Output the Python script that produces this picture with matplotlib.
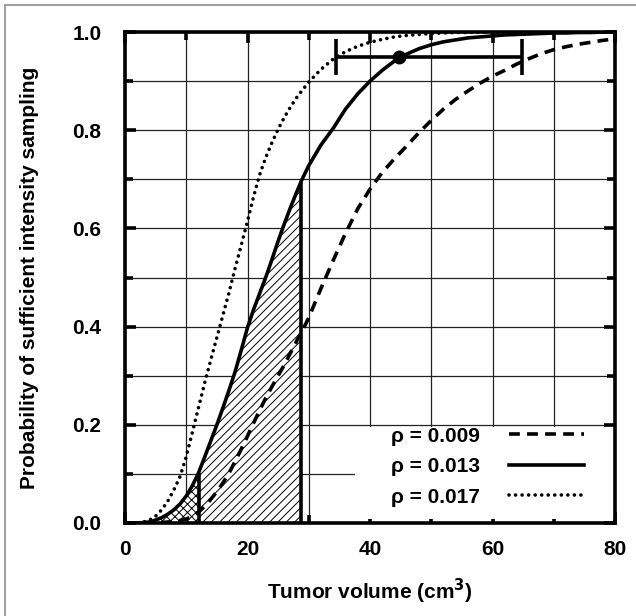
import matplotlib
matplotlib.use('Agg')
import matplotlib.pyplot as plt
from matplotlib.patches import Rectangle
from matplotlib.lines import Line2D
import numpy as np

plt.rcParams['font.family'] = ['Liberation Sans', 'DejaVu Sans']
plt.rcParams['font.weight'] = 'bold'
plt.rcParams['hatch.linewidth'] = 0.7

vol = [0, 2, 3, 4, 5, 6, 7, 8, 9, 10, 11, 12, 13, 14, 15, 16, 17, 18, 19, 20,
       21, 22, 23, 24, 25, 26, 27, 28, 28.8, 30, 32, 34, 36, 38, 40, 42, 44, 46,
       48, 50, 52, 54, 56, 58, 60, 62, 64, 66, 68, 70, 72, 74, 76, 78, 80]

p_009 = [0, 0, 0, 0, 0, 0.001, 0.002, 0.003, 0.005, 0.008, 0.014, 0.022, 0.034,
         0.048, 0.064, 0.082, 0.102, 0.126, 0.151, 0.177, 0.204, 0.23, 0.255,
         0.278, 0.3, 0.322, 0.346, 0.37, 0.388, 0.418, 0.478, 0.535, 0.59, 0.64,
         0.68, 0.714, 0.742, 0.768, 0.795, 0.82, 0.843, 0.863, 0.88, 0.896, 0.91,
         0.922, 0.935, 0.946, 0.956, 0.964, 0.97, 0.975, 0.979, 0.983, 0.986]

p_013 = [0, 0, 0.001, 0.002, 0.006, 0.011, 0.018, 0.027, 0.039, 0.055, 0.076,
         0.102, 0.134, 0.167, 0.2, 0.235, 0.271, 0.309, 0.353, 0.398, 0.435,
         0.468, 0.501, 0.537, 0.574, 0.609, 0.642, 0.673, 0.697, 0.728, 0.77,
         0.804, 0.843, 0.874, 0.9, 0.922, 0.941, 0.955, 0.966, 0.974, 0.98,
         0.984, 0.988, 0.99, 0.992, 0.994, 0.995, 0.996, 0.997, 0.998, 0.998,
         0.999, 0.999, 1.0, 1.0]

p_017 = [0, 0, 0.002, 0.006, 0.014, 0.027, 0.045, 0.068, 0.095, 0.135, 0.185,
         0.235, 0.285, 0.332, 0.378, 0.424, 0.47, 0.52, 0.567, 0.615, 0.665,
         0.71, 0.745, 0.775, 0.802, 0.826, 0.847, 0.866, 0.879, 0.898, 0.924,
         0.945, 0.96, 0.971, 0.979, 0.985, 0.99, 0.993, 0.995, 0.997, 0.998,
         0.999, 0.999, 1.0, 1.0, 1.0, 1.0, 1.0, 1.0, 1.0, 1.0, 1.0, 1.0, 1.0, 1.0]

labels = ['\u03c1 = 0.009', '\u03c1 = 0.013', '\u03c1 = 0.017']

# shaded ranges under the rho = 0.013 curve
cross_lo, cross_hi = 5, 12
hatch_lo, hatch_hi = 12, 28.8

# volume estimate with range at p = 0.95
est_vol = 44.8
est_lo = 34.5
est_hi = 64.8
est_p = 0.95

x = np.array(vol)
y13 = np.array(p_013)

fig = plt.figure(figsize=(6.36, 6.16), dpi=100)
ax = fig.add_axes([125/636, 93/616, 490/636, 491/616])

# image frame (left and top only visible)
fig.add_artist(Line2D([5/636, 5/636], [0, 1 - 5/616], color='#a0a0a0', lw=1.5))
fig.add_artist(Line2D([5/636, 1], [1 - 5/616, 1 - 5/616], color='#a0a0a0', lw=1.5))

ax.set_axisbelow(True)
ax.grid(which='both', color='#222222', lw=0.9)

m = (x >= cross_lo) & (x <= cross_hi)
ax.fill_between(x[m], 0, y13[m], facecolor='white', edgecolor='black',
                hatch='xxxx', lw=0, zorder=1.2)
m = (x >= hatch_lo) & (x <= hatch_hi)
ax.fill_between(x[m], 0, y13[m], facecolor='white', edgecolor='black',
                hatch='////', lw=0, zorder=1.2)
ax.vlines([hatch_lo, hatch_hi], 0,
          [y13[vol.index(hatch_lo)], y13[vol.index(hatch_hi)]],
          color='black', lw=2.6, zorder=2)

l1, = ax.plot(vol, p_009, color='black', lw=2.6, ls=(0, (3.0, 2.0)), zorder=2)
l2, = ax.plot(vol, p_013, color='black', lw=2.6, zorder=2)
l3, = ax.plot(vol, p_017, color='black', lw=2.6, ls=(0, (0.01, 1.8)),
              dash_capstyle='round', zorder=2)

ax.errorbar([est_vol], [est_p], xerr=[[est_vol - est_lo], [est_hi - est_vol]],
            fmt='o', color='black', ms=9, elinewidth=2.6, capsize=13,
            capthick=2.6, zorder=3)

# white box behind legend
ax.add_patch(Rectangle((0.47, 0.008), 0.53, 0.187, transform=ax.transAxes,
                       facecolor='white', edgecolor='none', zorder=1.5))
ax.legend([l1, l2, l3], labels, loc='lower right', bbox_to_anchor=(0.975, -0.005),
          frameon=False, markerfirst=False, fontsize=15, handlelength=3.6,
          handletextpad=1.4, labelspacing=0.55)

ax.set_xlim(0, 80)
ax.set_ylim(0, 1)
ax.set_xticks(np.arange(0, 81, 20))
ax.set_xticks(np.arange(0, 81, 10), minor=True)
ax.set_yticks(np.arange(0, 1.01, 0.2))
ax.set_yticks(np.arange(0, 1.01, 0.1), minor=True)
ax.set_yticklabels(['0.0', '0.2', '0.4', '0.6', '0.8', '1.0'])
ax.tick_params(which='both', direction='in', top=True, right=True, width=2.6,
               labelsize=15)
ax.tick_params(which='major', length=8, pad=12)
ax.tick_params(which='minor', length=6)
ax.tick_params(axis='y', which='major', pad=17)
for s in ax.spines.values():
    s.set_linewidth(2.6)

ax.set_xlabel('Tumor volume (cm$^\\mathbf{3}$)', fontsize=15, fontweight='bold')
ax.set_ylabel('Probability of sufficient intensity sampling', fontsize=15,
              fontweight='bold')
ax.xaxis.set_label_coords(0.5, -0.11)
ax.yaxis.set_label_coords(-0.175, 0.5)

fig.savefig('out.png', dpi=100)
